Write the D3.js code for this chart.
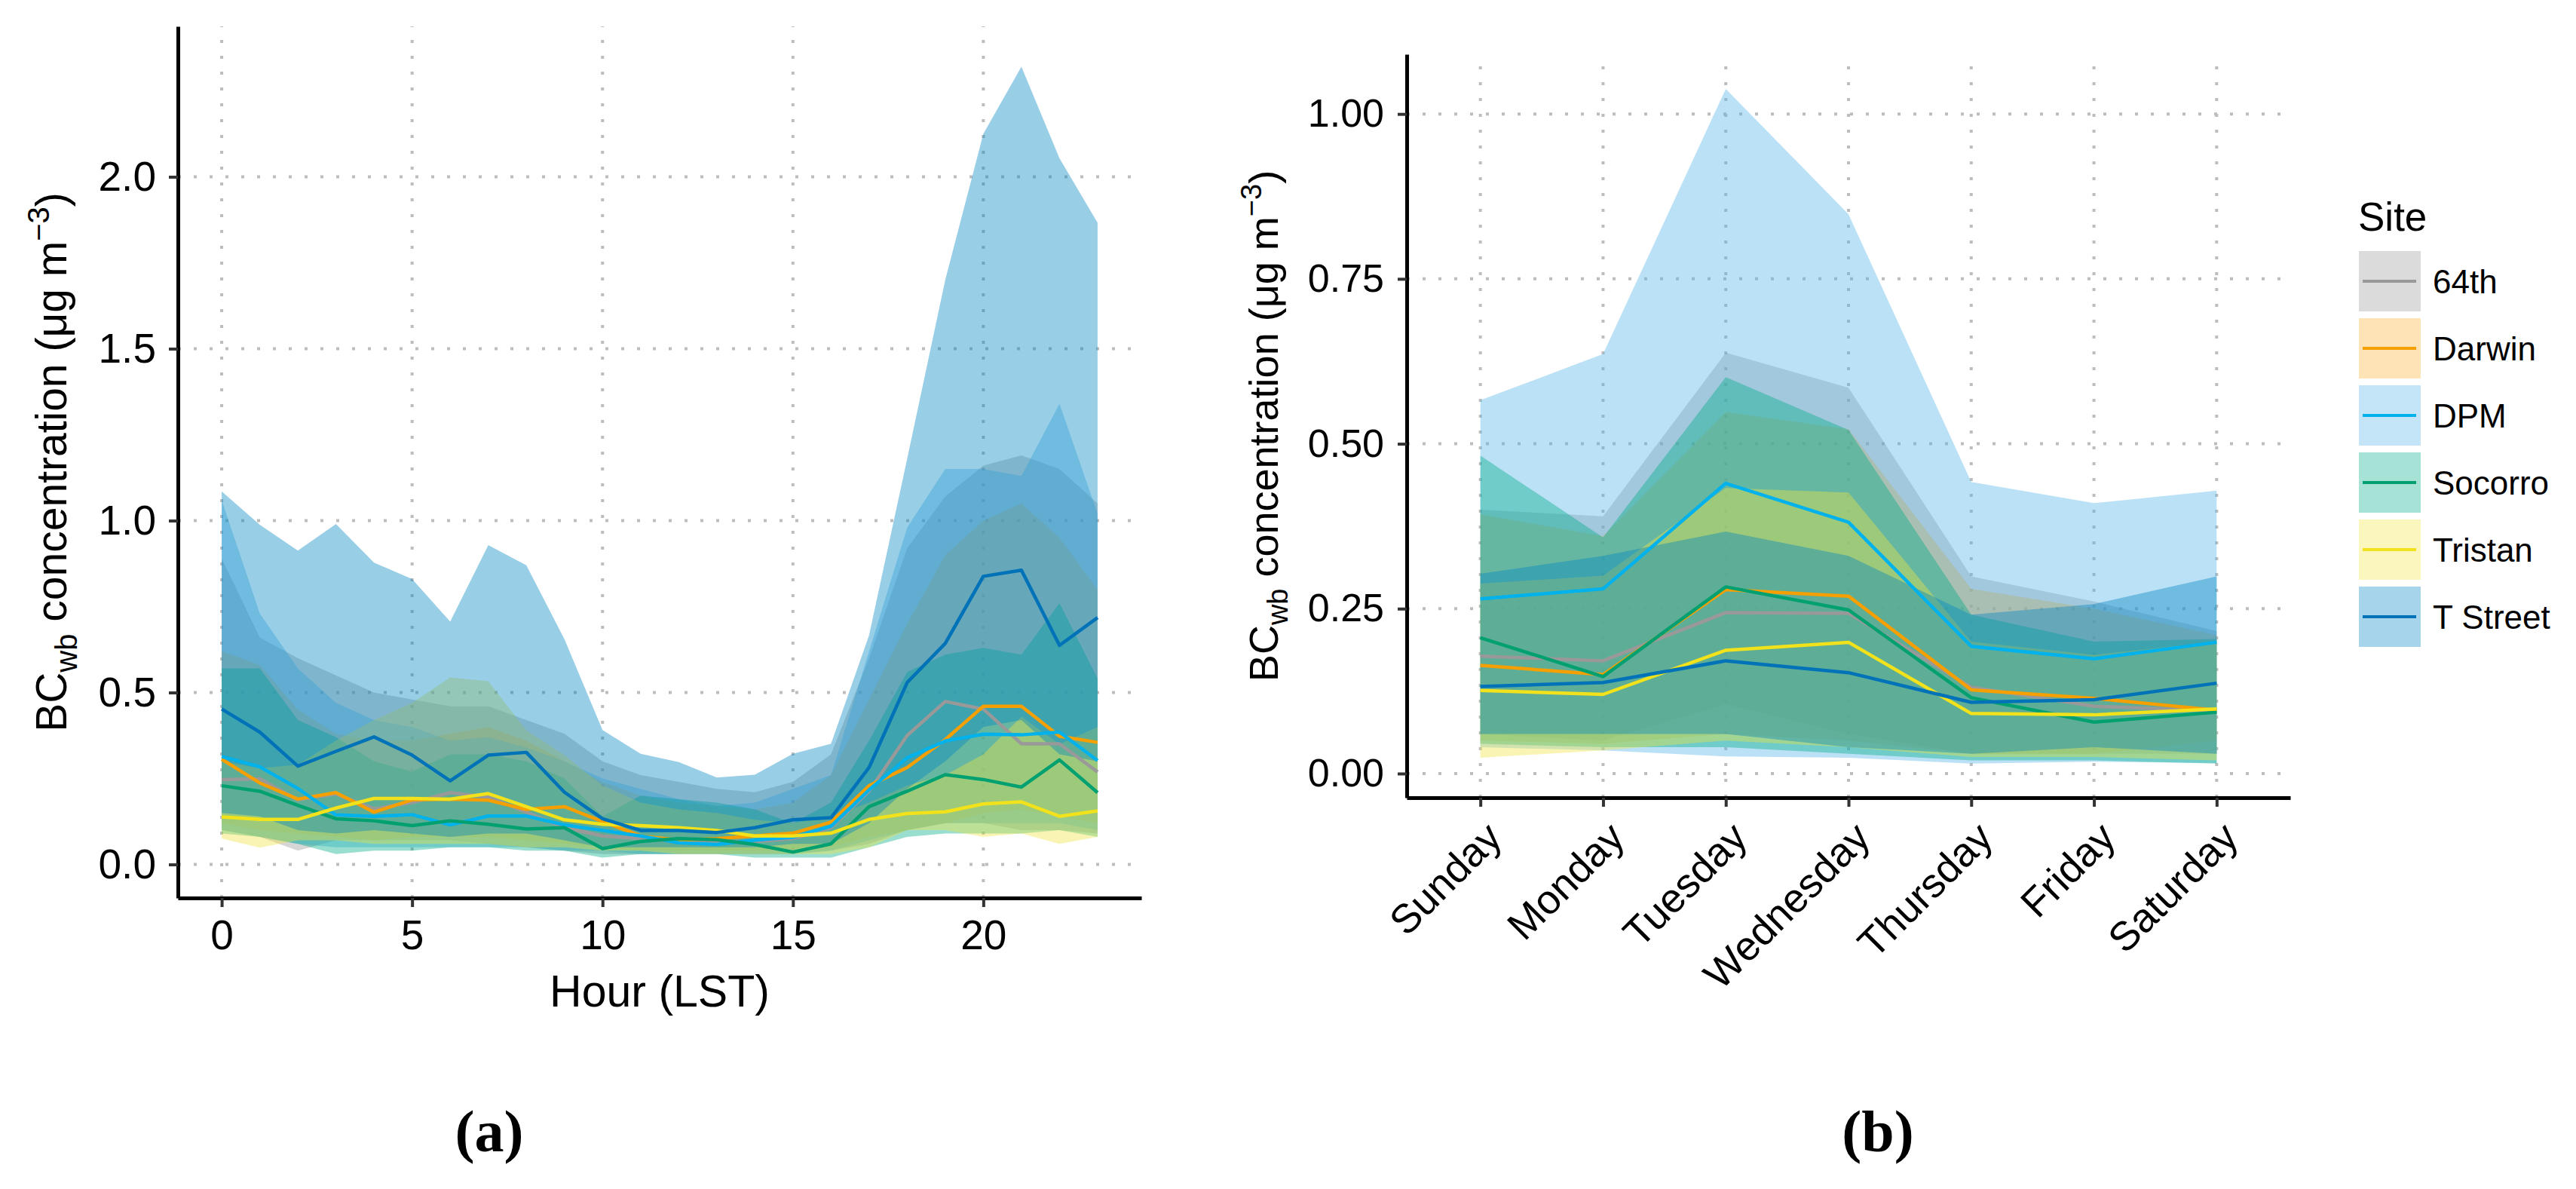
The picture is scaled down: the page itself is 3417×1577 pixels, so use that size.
<!DOCTYPE html>
<html>
<head>
<meta charset="utf-8">
<script src="https://cdn.jsdelivr.net/npm/d3@7"></script>
<style>
  body { margin: 0; background: #fff; }
  svg { display: block; }
</style>
</head>
<body>
<div id="chart"></div>
<script>
const FONT = "'Liberation Sans', Arial, sans-serif"

const sites = ['64th', 'Darwin', 'DPM', 'Socorro', 'Tristan', 'T Street']
const lineColors = ['#999999', '#f5a000', '#00b2ec', '#00a071', '#f2e21b', '#0072b8']
const fillColors = ['#999999', '#f8ae2a', '#56b4e9', '#00ad87', '#f0e442', '#0084c3']

// (a) hour of day
const hours = [0, 1, 2, 3, 4, 5, 6, 7, 8, 9, 10, 11, 12, 13, 14, 15, 16, 17, 18, 19, 20, 21, 22, 23]
const hourTicks = [0, 5, 10, 15, 20]
const hourYTicks = [0, 0.5, 1, 1.5, 2]

// one row per site, same order as sites
const hourMean = [
  [0.247, 0.249, 0.188, 0.205, 0.162, 0.18, 0.209, 0.196, 0.152, 0.107, 0.083, 0.075, 0.067, 0.067, 0.067, 0.075, 0.107, 0.213, 0.375, 0.474, 0.452, 0.351, 0.351, 0.269],
  [0.306, 0.237, 0.19, 0.209, 0.152, 0.188, 0.19, 0.187, 0.16, 0.168, 0.125, 0.083, 0.071, 0.075, 0.083, 0.091, 0.123, 0.229, 0.282, 0.363, 0.46, 0.46, 0.373, 0.355],
  [0.314, 0.284, 0.221, 0.144, 0.14, 0.145, 0.115, 0.141, 0.141, 0.115, 0.099, 0.083, 0.063, 0.058, 0.071, 0.079, 0.111, 0.217, 0.31, 0.359, 0.379, 0.377, 0.385, 0.302],
  [0.229, 0.213, 0.172, 0.133, 0.127, 0.113, 0.127, 0.117, 0.103, 0.107, 0.046, 0.067, 0.075, 0.072, 0.058, 0.036, 0.06, 0.168, 0.213, 0.261, 0.247, 0.225, 0.304, 0.209],
  [0.138, 0.131, 0.131, 0.164, 0.192, 0.192, 0.19, 0.206, 0.168, 0.13, 0.117, 0.113, 0.107, 0.099, 0.083, 0.083, 0.091, 0.131, 0.148, 0.153, 0.176, 0.182, 0.14, 0.156],
  [0.452, 0.385, 0.286, 0.329, 0.371, 0.318, 0.243, 0.318, 0.326, 0.21, 0.133, 0.099, 0.099, 0.093, 0.107, 0.13, 0.136, 0.282, 0.529, 0.643, 0.838, 0.856, 0.637, 0.718]
]
const hourLow = [
  [0.1, 0.08, 0.04, 0.07, 0.07, 0.07, 0.07, 0.06, 0.05, 0.04, 0.03, 0.03, 0.03, 0.03, 0.03, 0.03, 0.04, 0.06, 0.1, 0.12, 0.12, 0.1, 0.1, 0.09],
  [0.12, 0.1, 0.09, 0.08, 0.07, 0.08, 0.08, 0.08, 0.07, 0.06, 0.05, 0.04, 0.04, 0.04, 0.04, 0.04, 0.05, 0.08, 0.1, 0.12, 0.15, 0.16, 0.14, 0.12],
  [0.1, 0.08, 0.06, 0.05, 0.05, 0.05, 0.05, 0.05, 0.05, 0.04, 0.04, 0.03, 0.03, 0.03, 0.03, 0.03, 0.04, 0.07, 0.1, 0.12, 0.12, 0.12, 0.12, 0.1],
  [0.09, 0.08, 0.06, 0.03, 0.04, 0.04, 0.05, 0.05, 0.04, 0.04, 0.02, 0.03, 0.03, 0.03, 0.02, 0.02, 0.02, 0.05, 0.08, 0.09, 0.09, 0.09, 0.1, 0.08],
  [0.075, 0.049, 0.07, 0.07, 0.06, 0.06, 0.06, 0.06, 0.05, 0.05, 0.04, 0.04, 0.03, 0.03, 0.03, 0.03, 0.03, 0.05, 0.1, 0.1, 0.08, 0.09, 0.06, 0.08],
  [0.15, 0.14, 0.1, 0.09, 0.1, 0.09, 0.08, 0.09, 0.09, 0.07, 0.05, 0.05, 0.05, 0.05, 0.05, 0.06, 0.06, 0.12, 0.22, 0.3, 0.4, 0.42, 0.32, 0.3]
]
const hourHigh = [
  [0.89, 0.66, 0.6, 0.55, 0.5, 0.48, 0.46, 0.46, 0.42, 0.38, 0.3, 0.26, 0.24, 0.22, 0.21, 0.24, 0.32, 0.6, 0.92, 1.07, 1.16, 1.19, 1.15, 1.05],
  [0.62, 0.58, 0.45, 0.38, 0.36, 0.36, 0.38, 0.4, 0.36, 0.3, 0.24, 0.2, 0.18, 0.17, 0.16, 0.18, 0.26, 0.48, 0.7, 0.9, 1.0, 1.05, 0.95, 0.8],
  [1.06, 0.73, 0.57, 0.47, 0.42, 0.4, 0.36, 0.37, 0.34, 0.3, 0.25, 0.22, 0.19, 0.17, 0.18, 0.22, 0.26, 0.62, 0.98, 1.15, 1.15, 1.13, 1.34, 1.02],
  [0.57, 0.57, 0.42, 0.37, 0.3, 0.27, 0.32, 0.32, 0.3, 0.25, 0.14, 0.2, 0.19, 0.18, 0.16, 0.12, 0.18, 0.36, 0.56, 0.61, 0.63, 0.61, 0.76, 0.54],
  [0.3, 0.28, 0.29, 0.36, 0.42, 0.47, 0.544, 0.533, 0.39, 0.318, 0.23, 0.18, 0.16, 0.15, 0.13, 0.12, 0.14, 0.18, 0.23, 0.26, 0.32, 0.43, 0.35, 0.4],
  [1.085, 0.988, 0.913, 0.99, 0.878, 0.83, 0.706, 0.929, 0.87, 0.655, 0.391, 0.322, 0.298, 0.253, 0.261, 0.322, 0.351, 0.667, 1.18, 1.7, 2.125, 2.32, 2.054, 1.866]
]

// (b) day of week
const days = ['Sunday', 'Monday', 'Tuesday', 'Wednesday', 'Thursday', 'Friday', 'Saturday']
const dayYTicks = [0, 0.25, 0.5, 0.75, 1]

const dayMean = [
  [0.178, 0.171, 0.244, 0.243, 0.131, 0.102, 0.095],
  [0.164, 0.15, 0.279, 0.269, 0.127, 0.114, 0.096],
  [0.265, 0.28, 0.44, 0.381, 0.193, 0.174, 0.199],
  [0.206, 0.147, 0.283, 0.248, 0.115, 0.078, 0.093],
  [0.126, 0.12, 0.187, 0.199, 0.091, 0.089, 0.098],
  [0.132, 0.138, 0.171, 0.153, 0.108, 0.112, 0.137]
]
const dayLow = [
  [0.06, 0.05, 0.105, 0.06, 0.03, 0.03, 0.03],
  [0.05, 0.045, 0.06, 0.05, 0.03, 0.03, 0.05],
  [0.04, 0.035, 0.026, 0.024, 0.015, 0.018, 0.016],
  [0.045, 0.04, 0.04, 0.03, 0.02, 0.02, 0.015],
  [0.024, 0.035, 0.05, 0.04, 0.025, 0.025, 0.02],
  [0.06, 0.06, 0.06, 0.04, 0.03, 0.04, 0.03]
]
const dayHigh = [
  [0.4, 0.39, 0.638, 0.585, 0.299, 0.261, 0.216],
  [0.393, 0.36, 0.548, 0.522, 0.28, 0.25, 0.21],
  [0.566, 0.636, 1.038, 0.848, 0.442, 0.41, 0.429],
  [0.482, 0.358, 0.601, 0.521, 0.241, 0.2, 0.204],
  [0.288, 0.3, 0.433, 0.426, 0.2, 0.18, 0.2],
  [0.303, 0.33, 0.367, 0.33, 0.241, 0.257, 0.299]
]

const svg = d3
  .select('#chart')
  .append('svg')
  .attr('width', 3417)
  .attr('height', 1577)
  .style('font-family', FONT)

function buildSeries(xValues, mean, low, high) {
  return sites.map((site, i) => ({
    site: site,
    index: i,
    values: xValues.map((xv, j) => ({
      x: xv,
      mean: mean[i][j],
      low: low[i][j],
      high: high[i][j]
    }))
  }))
}

function drawPanel(opts) {
  const { x, y, series, xTicks, yTicks } = opts
  const g = svg.append('g')
  const [x0, x1] = x.range()
  const [y0, y1] = y.range()

  // dotted grid
  g.selectAll('.hgrid')
    .data(yTicks)
    .enter()
    .append('line')
    .attr('x1', x0)
    .attr('x2', x1)
    .attr('y1', d => y(d))
    .attr('y2', d => y(d))
    .attr('stroke', '#bdbdbd')
    .attr('stroke-width', 4)
    .attr('stroke-dasharray', '4 17')

  g.selectAll('.vgrid')
    .data(xTicks)
    .enter()
    .append('line')
    .attr('x1', d => x(d))
    .attr('x2', d => x(d))
    .attr('y1', y0)
    .attr('y2', y1)
    .attr('stroke', '#bdbdbd')
    .attr('stroke-width', 4)
    .attr('stroke-dasharray', '4 17')

  const area = d3
    .area()
    .x(d => x(d.x))
    .y0(d => y(d.low))
    .y1(d => y(d.high))

  const line = d3
    .line()
    .x(d => x(d.x))
    .y(d => y(d.mean))

  g.selectAll('.ribbon')
    .data(series)
    .enter()
    .append('path')
    .attr('d', d => area(d.values))
    .attr('fill', d => fillColors[d.index])
    .attr('fill-opacity', 0.4)

  g.selectAll('.mean')
    .data(series)
    .enter()
    .append('path')
    .attr('d', d => line(d.values))
    .attr('fill', 'none')
    .attr('stroke', d => lineColors[d.index])
    .attr('stroke-width', 4.5)
    .attr('stroke-linejoin', 'round')

  return g
}

function styleAxis(sel, size) {
  sel.attr('font-family', FONT).attr('font-size', size)
  sel.select('.domain').attr('stroke', '#000').attr('stroke-width', 5)
  sel.selectAll('.tick line').attr('stroke', '#333').attr('stroke-width', 4)
  sel.selectAll('.tick text').attr('fill', '#000')
}

function yTitle(px, py, size) {
  const small = Math.round(size * 0.7)
  const t = svg
    .append('text')
    .attr('transform', 'translate(' + px + ',' + py + ') rotate(-90)')
    .attr('text-anchor', 'middle')
    .attr('font-size', size)
    .attr('fill', '#000')
  t.append('tspan').text('BC')
  t.append('tspan').attr('font-size', small).attr('dy', size * 0.24).text('wb')
  t.append('tspan').attr('dy', -size * 0.24).text(' concentration (μg m')
  t.append('tspan').attr('font-size', small).attr('dy', -size * 0.4).text('−3')
  t.append('tspan').attr('dy', size * 0.4).text(')')
}

// ---- panel (a)
const xA = d3.scaleLinear().domain([-1.15, 24.15]).range([236, 1514])
const yA = d3.scaleLinear().domain([-0.0975, 2.4375]).range([1191, 35])

drawPanel({
  x: xA,
  y: yA,
  series: buildSeries(hours, hourMean, hourLow, hourHigh),
  xTicks: hourTicks,
  yTicks: hourYTicks
})

svg
  .append('g')
  .attr('transform', 'translate(236,0)')
  .call(
    d3.axisLeft(yA)
      .tickValues(hourYTicks)
      .tickFormat(d3.format('.1f'))
      .tickSize(12)
      .tickSizeOuter(0)
      .tickPadding(17)
  )
  .call(sel => styleAxis(sel, 55))

svg
  .append('g')
  .attr('transform', 'translate(0,1191)')
  .call(
    d3.axisBottom(xA)
      .tickValues(hourTicks)
      .tickSize(12)
      .tickSizeOuter(0)
      .tickPadding(17)
  )
  .call(sel => styleAxis(sel, 55))

svg
  .append('text')
  .attr('x', 875)
  .attr('y', 1335)
  .attr('text-anchor', 'middle')
  .attr('font-size', 59)
  .text('Hour (LST)')

yTitle(88, 613, 57)

// ---- panel (b)
const xB = d3.scalePoint().domain(days).range([1866, 3038]).padding(0.6)
const yB = d3.scaleLinear().domain([-0.0366, 1.0905]).range([1058, 72])

drawPanel({
  x: xB,
  y: yB,
  series: buildSeries(days, dayMean, dayLow, dayHigh),
  xTicks: days,
  yTicks: dayYTicks
})

svg
  .append('g')
  .attr('transform', 'translate(1866,0)')
  .call(
    d3.axisLeft(yB)
      .tickValues(dayYTicks)
      .tickFormat(d3.format('.2f'))
      .tickSize(12)
      .tickSizeOuter(0)
      .tickPadding(18)
  )
  .call(sel => styleAxis(sel, 52))

svg
  .append('g')
  .attr('transform', 'translate(0,1058)')
  .call(d3.axisBottom(xB).tickSize(12).tickSizeOuter(0))
  .call(sel => styleAxis(sel, 54))
  .selectAll('.tick text')
  .attr('x', 0)
  .attr('y', 0)
  .attr('dy', 0)
  .attr('text-anchor', 'end')
  .attr('transform', 'translate(31,56) rotate(-45)')

yTitle(1695, 565, 54)

// legend
const legend = svg.append('g').attr('transform', 'translate(3128,0)')

legend
  .append('text')
  .attr('x', 0)
  .attr('y', 306)
  .attr('font-size', 53)
  .text('Site')

const keys = legend
  .selectAll('.key')
  .data(sites)
  .enter()
  .append('g')
  .attr('transform', (d, i) => 'translate(0,' + (333 + i * 89) + ')')

keys
  .append('rect')
  .attr('x', 1)
  .attr('width', 82)
  .attr('height', 80)
  .attr('fill', (d, i) => fillColors[i])
  .attr('fill-opacity', 0.35)

keys
  .append('line')
  .attr('x1', 6)
  .attr('x2', 77)
  .attr('y1', 40)
  .attr('y2', 40)
  .attr('stroke', (d, i) => lineColors[i])
  .attr('stroke-width', 4)

keys
  .append('text')
  .attr('x', 99)
  .attr('y', 56)
  .attr('font-size', 44)
  .text(d => d)

// panel letters
svg
  .selectAll('.letter')
  .data([['(a)', 649], ['(b)', 2491]])
  .enter()
  .append('text')
  .attr('x', d => d[1])
  .attr('y', 1527)
  .attr('text-anchor', 'middle')
  .attr('font-family', "'Liberation Serif', 'Times New Roman', serif")
  .attr('font-weight', 'bold')
  .attr('font-size', 78)
  .text(d => d[0])
</script>
</body>
</html>
